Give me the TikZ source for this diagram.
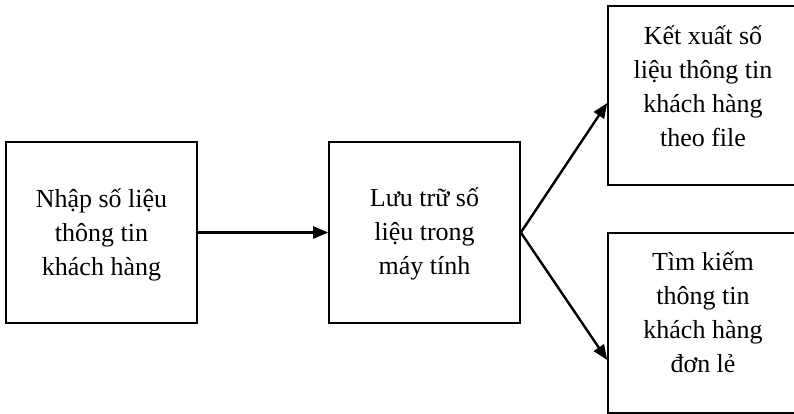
\documentclass[tikz,border=0pt]{standalone}
\usepackage{fontspec}
\setmainfont{Liberation Serif}
\usetikzlibrary{calc,arrows.meta}
\begin{document}
\begin{tikzpicture}[x=1pt,y=-1pt,
  procbox/.style={draw, line width=1.6pt, inner sep=0pt},
  boxtext/.style={align=center, inner sep=0pt, font=\fontsize{26}{34}\selectfont},
  flow/.style={line width=2.4pt, -{Triangle[length=15pt,width=12pt]}}]
  \useasboundingbox (0,0) rectangle (794,414);
  \clip (0,0) rectangle (794,414);
  % process boxes
  \node[procbox, minimum width=191pt, minimum height=181pt] (b1) at (101.5,232.5) {};
  \node[procbox, minimum width=191pt, minimum height=181pt] (b2) at (424.5,232.5) {};
  \node[procbox, minimum width=192pt, minimum height=179pt] (b3) at (704,95.5) {};
  \node[procbox, minimum width=192pt, minimum height=180pt] (b4) at (704,323) {};
  % box captions
  \node[boxtext] (t1) at (101.5,235) {Nhập số liệu\\thông tin\\khách hàng};
  \node[boxtext] (t2) at (424.5,234) {Lưu trữ số\\liệu trong\\máy tính};
  \node[boxtext] (t3) at (703,86) {Kết xuất số\\liệu thông tin\\khách hàng\\theo file};
  \node[boxtext] (t4) at (703,312) {Tìm kiếm\\thông tin\\khách hàng\\đơn lẻ};
  % connectors
  \draw[flow] (b1.east) -- (b2.west);
  \draw[flow] (b2.east) -- ($(b3.west)+(0,7.5)$);
  \draw[flow] (b2.east) -- ($(b4.west)+(0,37)$);
\end{tikzpicture}
\end{document}
